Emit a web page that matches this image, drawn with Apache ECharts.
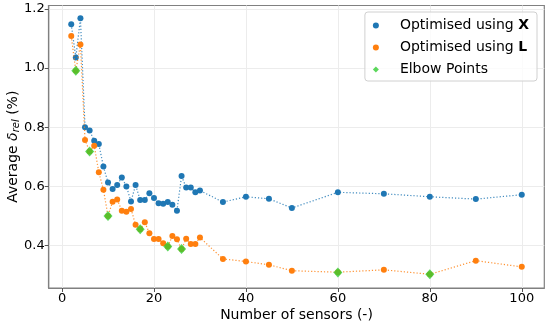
<!DOCTYPE html>
<html>
<head>
<meta charset="utf-8">
<script src="https://cdn.jsdelivr.net/npm/echarts@6/dist/echarts.min.js"></script>
<style>html,body{margin:0;padding:0;background:#fff}#c{width:550px;height:324px}</style>
</head>
<body>
<div id="c"></div>
<script>
// Data
const sensorsX = [2,3,4,5,6,7,8,9,10,11,12,13,14,15,16,17,18,19,20,21,22,23,24,25,26,27,28,29,30,35,40,45,50,60,70,80,90,100];
const optimisedX = [1.148,1.036,1.168,0.800,0.789,0.754,0.743,0.667,0.613,0.591,0.605,0.630,0.600,0.549,0.605,0.554,0.554,0.577,0.561,0.543,0.541,0.547,0.538,0.518,0.635,0.596,0.596,0.580,0.586,0.547,0.565,0.558,0.527,0.580,0.575,0.565,0.557,0.572];
const sensorsL = sensorsX;
const optimisedL = [1.108,0.991,1.080,0.757,0.718,0.737,0.648,0.589,0.500,0.548,0.556,0.518,0.514,0.524,0.470,0.455,0.479,0.442,0.422,0.422,0.408,0.397,0.432,0.421,0.388,0.423,0.405,0.405,0.427,0.355,0.346,0.335,0.315,0.310,0.318,0.303,0.349,0.328];
const elbowX = [3,6,10,17,23,26,60,80];
const elbowY = [0.991,0.718,0.500,0.455,0.397,0.388,0.309,0.303];
const xTicks = [0,20,40,60,80,100];
const yTicks = [0.4,0.6,0.8,1.0,1.2];
const seriesNames = ['Optimised using X','Optimised using L','Elbow Points'];

const zip = (a,b) => a.map((v,i)=>[v,b[i]]);
const font = 'DejaVu Sans';
const chart = echarts.init(document.getElementById('c'), null, {renderer:'canvas'});
chart.setOption({
  animation:false,
  backgroundColor:'#fff',
  textStyle:{fontFamily:font},
  grid:{left:48.7, right:5.7, top:5.5, bottom:36, show:true, borderColor:'#808080', borderWidth:1.2, containLabel:false, outerBoundsMode:'none'},
  xAxis:{
    type:'value', min:-2.9, max:104.9,
    name:'Number of sensors (-)', nameLocation:'middle', nameGap:20, nameMoveOverlap:false,
    nameTextStyle:{fontSize:14, color:'#000', fontFamily:font},
    axisLine:{show:true, onZero:false, lineStyle:{color:'#808080', width:1.2}},
    axisTick:{show:true, length:4, lineStyle:{color:'#555'}, customValues:xTicks},
    axisLabel:{fontSize:13, color:'#000', margin:4, fontFamily:font, customValues:xTicks, formatter:v=>String(v)},
    splitLine:{show:true, lineStyle:{color:'#ececec', width:1}}
  },
  yAxis:{
    type:'value', min:0.2566, max:1.2114,
    name:'{n|Average }{d|δ}{s|rel}{n| (%)}', nameLocation:'middle', nameGap:27, nameMoveOverlap:false,
    nameTextStyle:{fontSize:14, color:'#000', fontFamily:font,
      rich:{n:{fontSize:14,fontFamily:font,color:'#000'},
            d:{fontSize:14,fontFamily:font,fontStyle:'italic',color:'#000'},
            s:{fontSize:10,fontFamily:font,fontStyle:'italic',color:'#000',padding:[7,0,0,0]}}},
    axisLine:{show:true, onZero:false, lineStyle:{color:'#808080', width:1.2}},
    axisTick:{show:true, length:4, lineStyle:{color:'#555'}, customValues:yTicks},
    axisLabel:{fontSize:13, color:'#000', margin:4, fontFamily:font, customValues:yTicks, formatter:v=>v.toFixed(1)},
    splitLine:{show:true, lineStyle:{color:'#ececec', width:1}}
  },
  legend:{
    orient:'vertical', right:13, top:12, itemGap:5, itemWidth:6, itemHeight:6,
    padding:[5,8,3,8], borderColor:'#d0d0d0', borderWidth:1, borderRadius:3, backgroundColor:'rgba(255,255,255,0.8)',
    align:'left',
    data:[{name:seriesNames[0],icon:'circle'},{name:seriesNames[1],icon:'circle'},{name:seriesNames[2],icon:'diamond'}],
    formatter:function(name){
      if(name===seriesNames[0]) return '{t|Optimised using }{b|X}';
      if(name===seriesNames[1]) return '{t|Optimised using }{b|L}';
      return '{t|'+name+'}';
    },
    textStyle:{fontSize:14, color:'#000', fontFamily:font, padding:[0,0,0,16], lineHeight:17,
      rich:{t:{fontSize:14,fontFamily:font,color:'#000',lineHeight:17}, b:{fontSize:14,fontFamily:font,fontWeight:'bold',color:'#000',lineHeight:17}}}
  },
  series:[
    {name:seriesNames[0], type:'line', data:zip(sensorsX,optimisedX), symbol:'circle', symbolSize:6,
     itemStyle:{color:'#1f77b4'}, lineStyle:{color:'#1f77b4', width:1.2, type:[1.2,2], opacity:0.85}, z:2},
    {name:seriesNames[1], type:'line', data:zip(sensorsL,optimisedL), symbol:'circle', symbolSize:6,
     itemStyle:{color:'#ff7f0e'}, lineStyle:{color:'#ff7f0e', width:1.2, type:[1.2,2], opacity:0.85}, z:3},
    {name:seriesNames[2], type:'scatter', data:zip(elbowX,elbowY), symbol:'diamond', symbolSize:[9,10],
     itemStyle:{color:'#32cd32'}, z:4}
  ]
});
</script>
</body>
</html>
